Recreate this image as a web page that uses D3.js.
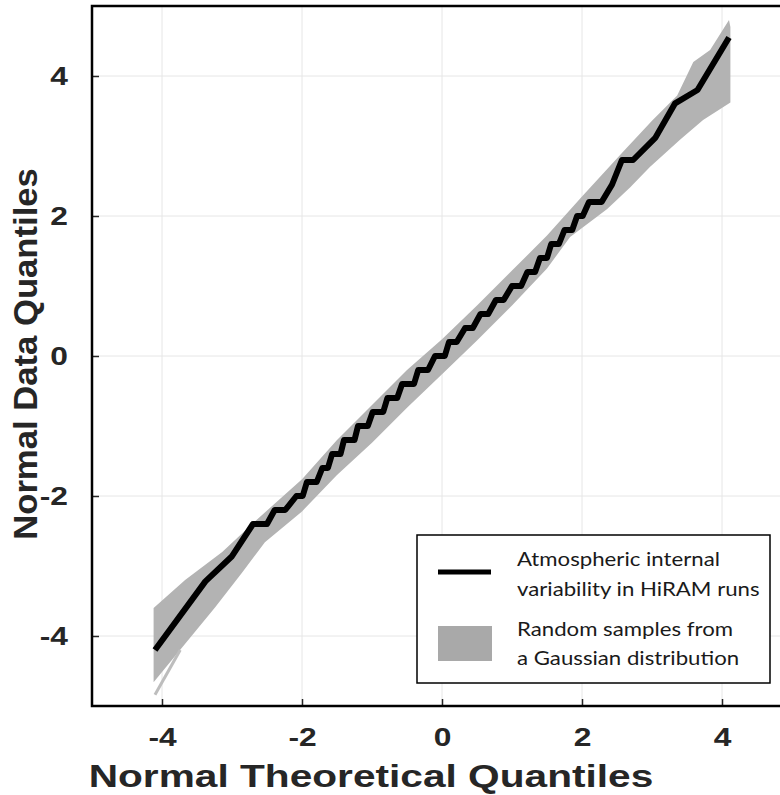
<!DOCTYPE html>
<html>
<head>
<meta charset="utf-8">
<script src="https://cdn.jsdelivr.net/npm/d3@7"></script>
<style>
  body { margin: 0; background: #fff; }
  svg { display: block; }
</style>
</head>
<body>
<svg width="780" height="795"></svg>
<script>
// tick values on both axes
const tickVals = [-4, -2, 0, 2, 4];

// black QQ line (HiRAM runs)
const qqX = [-4.1, -3.38, -3.0, -2.7, -2.5, -2.39, -2.24, -2.08, -1.99, -1.93, -1.79, -1.71, -1.63, -1.57, -1.45,
  -1.4, -1.25, -1.2, -1.06, -0.99, -0.84, -0.78, -0.64, -0.57, -0.4, -0.34, -0.2, -0.1, 0.04, 0.1, 0.21,
  0.33, 0.44, 0.55, 0.66, 0.77, 0.88, 1.0, 1.13, 1.22, 1.33, 1.4, 1.5, 1.56, 1.67, 1.75, 1.86, 1.93, 2.01,
  2.1, 2.28, 2.43, 2.57, 2.73, 3.05, 3.33, 3.65, 4.1];
const qqY = [-4.2, -3.22, -2.86, -2.4, -2.4, -2.2, -2.2, -2.0, -2.0, -1.8, -1.8, -1.6, -1.6, -1.4, -1.4,
  -1.2, -1.2, -1.0, -1.0, -0.8, -0.8, -0.6, -0.6, -0.4, -0.4, -0.2, -0.2, 0, 0, 0.2, 0.2,
  0.4, 0.4, 0.6, 0.6, 0.8, 0.8, 1.0, 1.0, 1.2, 1.2, 1.4, 1.4, 1.6, 1.6, 1.8, 1.8, 2.0, 2.0,
  2.2, 2.2, 2.45, 2.8, 2.8, 3.12, 3.61, 3.8, 4.55];

// gray envelope of random gaussian samples
const bandUpX = [-4.12, -3.67, -3.14, -2.67, -2.0, -1.5, -1.0, -0.5, 0, 0.5, 1.0, 1.5, 2.0, 2.59, 3.01, 3.36, 3.59, 3.83, 4.1];
const bandUpY = [-3.6, -3.2, -2.8, -2.36, -1.76, -1.2, -0.7, -0.2, 0.24, 0.72, 1.22, 1.72, 2.28, 2.92, 3.37, 3.72, 4.2, 4.37, 4.8];
const bandLoX = [4.12, 4.12, 3.73, 3.4, 2.97, 2.69, 2.36, 1.83, 1.5, 1.0, 0.5, 0, -0.5, -1.0, -1.5, -2.0, -2.53, -2.86, -3.24, -3.71, -4.12];
const bandLoY = [4.7, 3.62, 3.37, 3.09, 2.7, 2.41, 2.1, 1.7, 1.25, 0.72, 0.22, -0.26, -0.74, -1.24, -1.7, -2.22, -2.66, -3.1, -3.59, -4.16, -4.66];
// one outlying sample below the band
const outX = [-4.1, -3.74];
const outY = [-4.84, -4.2];

const legendLabels = [
  ["Atmospheric internal", "variability in HiRAM runs"],
  ["Random samples from", "a Gaussian distribution"]
];

// the figure is a little stretched sideways, so widen text to match
function stretch(sel, k) {
  sel.each(function() {
    let w = this.getComputedTextLength();
    d3.select(this).attr("textLength", w * k).attr("lengthAdjust", "spacingAndGlyphs");
  });
}

function run() {
  let svg = d3.select("svg");
  let left = 92, topY = 6, size = 700;

  let x = d3.scaleLinear().domain([-5, 5]).range([left, left + size]);
  let y = d3.scaleLinear().domain([-5, 5]).range([topY + size, topY]);
  let line = d3.line().x(d => x(d[0])).y(d => y(d[1]));

  // grid
  svg.append("g").selectAll("line").data(tickVals).enter().append("line")
    .attr("x1", d => x(d)).attr("x2", d => x(d))
    .attr("y1", topY).attr("y2", topY + size)
    .attr("stroke", "#e6e6e6").attr("stroke-width", 1);
  svg.append("g").selectAll("line").data(tickVals).enter().append("line")
    .attr("y1", d => y(d)).attr("y2", d => y(d))
    .attr("x1", left).attr("x2", left + size)
    .attr("stroke", "#e6e6e6").attr("stroke-width", 1);

  // gray band
  let band = bandUpX.map((v, i) => [v, bandUpY[i]])
    .concat(bandLoX.map((v, i) => [v, bandLoY[i]]));
  svg.append("path")
    .attr("d", line(band) + "Z")
    .attr("fill", "#b3b3b3");
  svg.append("path")
    .attr("d", line(outX.map((v, i) => [v, outY[i]])))
    .attr("fill", "none").attr("stroke", "#bdbdbd").attr("stroke-width", 3);

  // black qq line
  svg.append("path")
    .attr("d", line(qqX.map((v, i) => [v, qqY[i]])))
    .attr("fill", "none").attr("stroke", "#000").attr("stroke-width", 6)
    .attr("stroke-linejoin", "round");

  // axes (ticks point inward)
  let fmt = d => String(d);
  let xAxis = svg.append("g").attr("transform", `translate(0,${topY + size})`)
    .call(d3.axisBottom(x).tickValues(tickVals).tickFormat(fmt).tickSize(-7).tickSizeOuter(0).tickPadding(22));
  let yAxis = svg.append("g").attr("transform", `translate(${left},0)`)
    .call(d3.axisLeft(y).tickValues(tickVals).tickFormat(fmt).tickSize(-7).tickSizeOuter(0).tickPadding(24));
  [xAxis, yAxis].forEach(a => {
    a.select(".domain").remove();
    a.selectAll(".tick line").attr("stroke", "#262626").attr("stroke-width", 1.5);
    a.selectAll("text").attr("fill", "#262626")
      .style("font-family", "'Liberation Sans', Arial, sans-serif")
      .style("font-size", "25px").style("font-weight", "bold")
      .call(stretch, 1.27);
  });

  // box
  svg.append("rect")
    .attr("x", left).attr("y", topY).attr("width", size).attr("height", size)
    .attr("fill", "none").attr("stroke", "#000").attr("stroke-width", 2.5);

  // axis titles
  svg.append("text")
    .attr("x", 371).attr("y", 787)
    .attr("text-anchor", "middle").attr("fill", "#262626")
    .style("font-family", "'Liberation Sans', Arial, sans-serif")
    .style("font-size", "32px").style("font-weight", "bold")
    .text("Normal Theoretical Quantiles")
    .call(stretch, 1.27);
  svg.append("text")
    .attr("transform", "translate(37,354) rotate(-90)")
    .attr("text-anchor", "middle").attr("fill", "#262626")
    .style("font-family", "'Liberation Sans', Arial, sans-serif")
    .style("font-size", "33px").style("font-weight", "bold")
    .text("Normal Data Quantiles")
    .call(stretch, 1.05);

  // legend
  let lg = svg.append("g");
  lg.append("rect")
    .attr("x", 417).attr("y", 535).attr("width", 353).attr("height", 148)
    .attr("fill", "#fff").attr("stroke", "#000").attr("stroke-width", 1.5);
  lg.append("line")
    .attr("x1", 438).attr("x2", 491).attr("y1", 572).attr("y2", 572)
    .attr("stroke", "#000").attr("stroke-width", 5);
  lg.append("rect")
    .attr("x", 438).attr("y", 626).attr("width", 54).attr("height", 35)
    .attr("fill", "#a9a9a9");
  let baselines = [[566, 596], [636, 665]];
  legendLabels.forEach((lines, i) => {
    lines.forEach((t, j) => {
      lg.append("text")
        .attr("x", 517).attr("y", baselines[i][j])
        .attr("fill", "#1a1a1a")
        .style("font-family", "Lato, 'Open Sans', sans-serif")
        .style("font-size", "20px")
        .text(t)
        .call(stretch, 1.11);
    });
  });
}

run();
</script>
</body>
</html>
